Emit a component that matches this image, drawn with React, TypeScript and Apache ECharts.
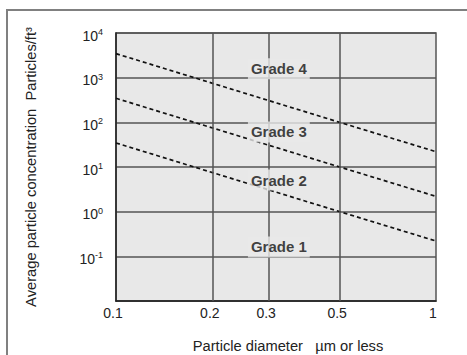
import React, { useEffect, useRef } from 'react';
import * as echarts from 'echarts';

// Particle diameter (µm) at the points
const diameters = [0.1, 0.5, 1];
const grade4 = [3450, 100, 22];
const grade3 = [345, 10, 2.2];
const grade2 = [34.5, 1, 0.22];

// Grade annotations (data coordinates)
const gradeNames = ['Grade 4', 'Grade 3', 'Grade 2', 'Grade 1'];
const gradeLabelX = [0.3228, 0.3228, 0.3228, 0.3228];
const gradeLabelY = [1585, 60.8, 5.1, 0.162];

// Extra vertical grid lines / tick labels
const extraXTicks = [0.2, 0.3, 0.5];

const FONT = '"Liberation Sans", Arial, Helvetica, sans-serif';

const App: React.FC = () => {
  const ref = useRef<HTMLDivElement>(null);

  useEffect(() => {
    if (!ref.current) return;
    const chart = echarts.init(ref.current, undefined, { renderer: 'svg' });

    const dashed = (name: string, vals: number[]) => ({
      name,
      type: 'line',
      data: diameters.map((d, i) => [d, vals[i]]),
      symbol: 'none',
      silent: true,
      z: 4,
      lineStyle: { color: '#111', width: 1.7, type: [4, 3] },
    });

    chart.setOption({
      animation: false,
      backgroundColor: '#fff',
      textStyle: { fontFamily: FONT },
      graphic: [
        {
          type: 'rect',
          shape: { x: 7, y: 10, width: 480, height: 380 },
          style: { fill: 'none', stroke: '#808080', lineWidth: 2 },
          silent: true,
        },
      ],
      grid: {
        left: 116,
        top: 33,
        right: 31,
        bottom: 54,
        containLabel: false,
        outerBoundsMode: 'none',
        show: true,
        backgroundColor: '#e8e8e8',
        borderColor: '#555',
        borderWidth: 1.5,
      },
      xAxis: {
        type: 'log',
        logBase: 10,
        min: 0.1,
        max: 1,
        name: 'Particle diameter   µm or less',
        nameLocation: 'middle',
        nameGap: 37,
        nameTextStyle: { fontSize: 14.7, color: '#222', fontFamily: FONT, padding: [0, 0, 0, 24] },
        axisLine: { show: true, lineStyle: { color: '#222', width: 1.5 } },
        axisTick: { show: false },
        splitLine: { show: false },
        axisLabel: {
          fontSize: 14,
          color: '#222',
          margin: 5,
          fontFamily: FONT,
          padding: [0, 6, 0, 0],
          formatter: (v: number) => String(Math.round(v * 10) / 10),
        },
      },
      yAxis: {
        type: 'log',
        logBase: 10,
        min: 0.01,
        max: 10000,
        name: 'Average particle concentration  Particles/ft³',
        nameLocation: 'middle',
        nameGap: 78,
        nameRotate: 90,
        nameTextStyle: { fontSize: 14.7, color: '#222', fontFamily: FONT },
        axisLine: { show: true, lineStyle: { color: '#222', width: 1.5 } },
        axisTick: { show: false },
        splitLine: { show: true, lineStyle: { color: '#555', width: 1.5 } },
        axisLabel: {
          margin: 13,
          fontFamily: FONT,
          padding: [4, 0, 0, 0],
          formatter: (v: number) => {
            const e = Math.round(Math.log10(v));
            if (e <= -2) return '';
            return `{b|10}{s|${e}}`;
          },
          rich: {
            b: { fontSize: 14, color: '#222', fontFamily: FONT, lineHeight: 15, verticalAlign: 'bottom' },
            s: { fontSize: 9, color: '#222', fontFamily: FONT, lineHeight: 10, verticalAlign: 'top' },
          },
        },
      },
      series: [
        {
          name: 'grid',
          type: 'line',
          data: [],
          silent: true,
          z: 3,
          markLine: {
            silent: true,
            symbol: ['none', 'none'],
            lineStyle: { color: '#555', width: 1.5, type: 'solid' },
            label: {
              show: true,
              position: 'start',
              distance: 5,
              fontSize: 14,
              color: '#222',
              fontFamily: FONT,
              padding: [0, 5, 0, 0],
              formatter: (p: any) => String(p.value),
            },
            emphasis: { disabled: true },
            data: extraXTicks.map((x) => ({ xAxis: x })),
          },
        },
        dashed('Grade 4 line', grade4),
        dashed('Grade 3 line', grade3),
        dashed('Grade 2 line', grade2),
        {
          name: 'labels',
          type: 'scatter',
          symbolSize: 0,
          silent: true,
          z: 10,
          data: gradeNames.map((n, i) => ({ name: n, value: [gradeLabelX[i], gradeLabelY[i]] })),
          label: {
            show: true,
            position: 'inside',
            formatter: (p: any) => p.name,
            fontSize: 15,
            fontWeight: 'bold',
            color: '#111',
            fontFamily: FONT,
            backgroundColor: '#e8e8e8',
            padding: [3, 3, 3, 3],
          },
        },
      ],
    });

    return () => chart.dispose();
  }, []);

  return (
    <div
      ref={ref}
      style={{ position: 'absolute', left: 0, top: 0, width: 467, height: 355 }}
    />
  );
};

export default App;
